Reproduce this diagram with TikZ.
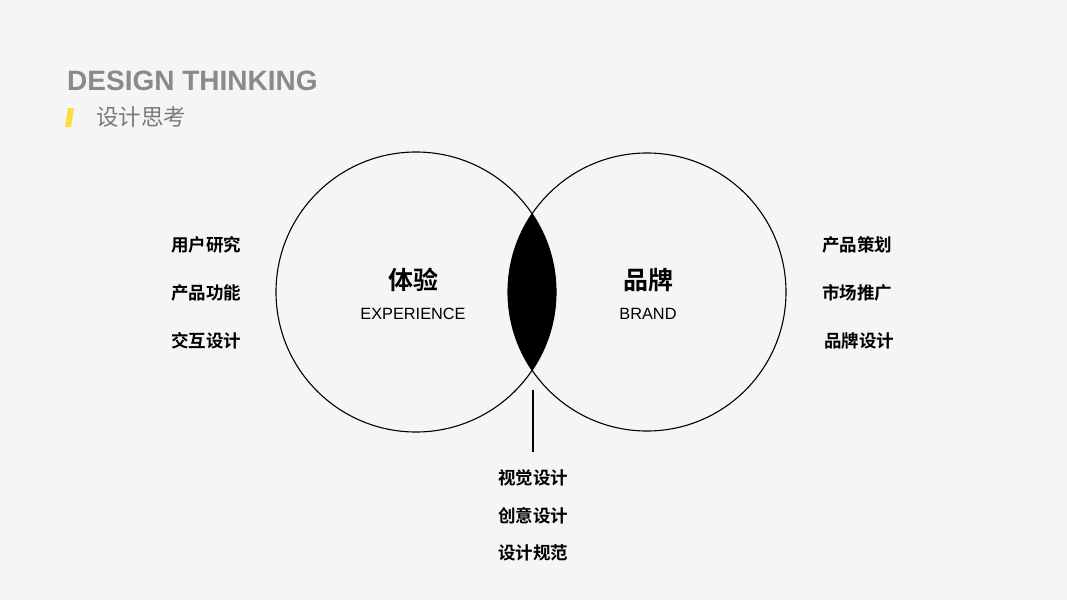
\documentclass[tikz,border=0pt]{standalone}
\usepackage{fontspec}
\setmainfont{Liberation Sans}
\newfontfamily\cjk{Noto Sans CJK SC}
\newfontfamily\cjkb{Noto Sans CJK SC Bold}
\definecolor{bgc}{HTML}{F5F5F5}
\definecolor{titlegray}{HTML}{8A8A8A}
\definecolor{subgray}{HTML}{7A7A7A}
\definecolor{accent}{HTML}{FFDA45}
\begin{document}
\begin{tikzpicture}[x=1pt,y=-1pt,
  ring/.style={draw=black,line width=1.1pt},
  sidelabel/.style={font=\cjkb\fontsize{17.5}{20}\selectfont,text=black,inner sep=0pt},
  bigcn/.style={font=\cjkb\fontsize{25}{28}\selectfont,text=black,inner sep=0pt},
  en/.style={font=\fontsize{16.3}{18}\selectfont,text=black,inner sep=0pt}]
\fill[bgc] (0,0) rectangle (1067,600);
\useasboundingbox (0,0) rectangle (1067,600);
% title
\node[anchor=base west,inner sep=0pt,text=titlegray,font=\bfseries\fontsize{28}{32}\selectfont] (title) at (67,90) {DESIGN THINKING};
\fill[accent] (68,108) -- (74,108) -- (71,127) -- (65,127) -- cycle;
\node[anchor=west,inner sep=0pt,text=subgray,font=\cjk\fontsize{22.5}{26}\selectfont] (sub) at (96,117) {设计思考};
% lens
\begin{scope}
  \clip (416,292) circle (140);
  \fill[black] (647,292) circle (139);
\end{scope}
\node[ring,circle,minimum size=280pt,inner sep=0pt] (L) at (416,292) {};
\node[ring,circle,minimum size=278pt,inner sep=0pt] (R) at (647,292) {};
% circle texts
\node[bigcn] (ty) at (413,280) {体验};
\node[en] (exp) at (413,314) {EXPERIENCE};
\node[bigcn] (pp) at (648,280) {品牌};
\node[en] (brand) at (648,314) {BRAND};
% side labels
\node[sidelabel] (l1) at (206,245) {用户研究};
\node[sidelabel] (l2) at (206,293) {产品功能};
\node[sidelabel] (l3) at (206,341) {交互设计};
\node[sidelabel] (r1) at (857,245) {产品策划};
\node[sidelabel] (r2) at (857,293) {市场推广};
\node[sidelabel] (r3) at (859,341) {品牌设计};
% bottom
\coordinate (ltop) at (533,390);
\node[sidelabel] (b1) at (533,478) {视觉设计};
\node[sidelabel] (b2) at (533,516) {创意设计};
\node[sidelabel] (b3) at (533,553) {设计规范};
\draw[line width=1.1pt] (ltop) -- (533,452);
\end{tikzpicture}
\end{document}
